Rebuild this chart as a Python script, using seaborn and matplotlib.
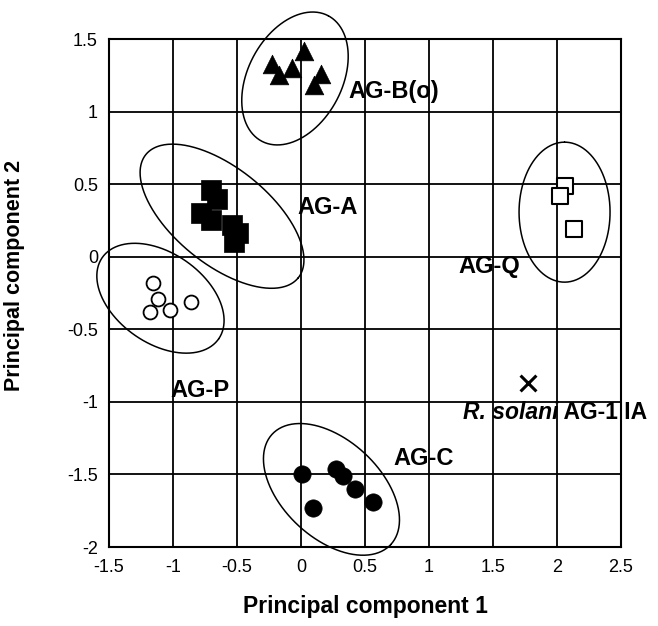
import numpy as np
import pandas as pd
import matplotlib
matplotlib.use("Agg")
import matplotlib.pyplot as plt
import seaborn as sns

# --- data (principal component scores) ---
agb_x = [-0.23, -0.17, -0.07, 0.02, 0.10, 0.16]
agb_y = [1.33, 1.25, 1.30, 1.42, 1.18, 1.26]

aga_x = [-0.70, -0.66, -0.78, -0.70, -0.54, -0.49, -0.52]
aga_y = [0.46, 0.40, 0.30, 0.25, 0.22, 0.16, 0.10]

agp_x = [-1.16, -1.12, -1.18, -1.02, -0.86]
agp_y = [-0.18, -0.29, -0.38, -0.37, -0.31]

agq_x = [2.06, 2.02, 2.13]
agq_y = [0.49, 0.42, 0.19]

agc_x = [0.01, 0.27, 0.33, 0.42, 0.56, 0.09]
agc_y = [-1.50, -1.46, -1.51, -1.60, -1.69, -1.73]

rs_x = [1.77]
rs_y = [-0.87]

groups = ["AG-B(o)", "AG-A", "AG-P", "AG-Q", "AG-C", "R. solani AG-1 IA"]

# group ellipses: centre (data), semi-axes (px), angle (deg on screen)
ell_cx = [-0.047, -0.617, -1.098, 2.059, 0.238]
ell_cy = [1.228, 0.279, -0.286, 0.307, -1.603]
ell_a = [71, 98, 71, 70, 81]
ell_b = [47, 48, 45, 45.5, 49]
ell_ang = [62, -39, -35, 90, -43]

# group labels
lab_text = ["AG-B(o)", "AG-A", "AG-P", "AG-Q", "AG-C"]
lab_x = [0.37, -0.03, -1.02, 1.23, 0.72]
lab_y = [1.14, 0.34, -0.92, -0.07, -1.39]

df = pd.concat([
    pd.DataFrame({"pc1": agb_x, "pc2": agb_y, "group": groups[0]}),
    pd.DataFrame({"pc1": aga_x, "pc2": aga_y, "group": groups[1]}),
    pd.DataFrame({"pc1": agp_x, "pc2": agp_y, "group": groups[2]}),
    pd.DataFrame({"pc1": agq_x, "pc2": agq_y, "group": groups[3]}),
    pd.DataFrame({"pc1": agc_x, "pc2": agc_y, "group": groups[4]}),
    pd.DataFrame({"pc1": rs_x, "pc2": rs_y, "group": groups[5]}),
], ignore_index=True)

styles = {
    "AG-B(o)": dict(marker="^", s=180, color="black", edgecolor="black", linewidth=0.5),
    "AG-A": dict(marker="s", s=200, color="black", edgecolor="black", linewidth=0.5),
    "AG-P": dict(marker="o", s=100, color="white", edgecolor="black", linewidth=1.3),
    "AG-Q": dict(marker="s", s=120, color="white", edgecolor="black", linewidth=1.5),
    "AG-C": dict(marker="o", s=155, color="black", edgecolor="black", linewidth=0.5),
    "R. solani AG-1 IA": dict(marker="x", s=130, color="black", linewidth=2.2),
}

sns.set_style("white")
plt.rcParams["font.family"] = ["Liberation Sans", "DejaVu Sans"]
plt.rcParams.update({"text.color": "black", "axes.labelcolor": "black",
                     "xtick.color": "black", "ytick.color": "black"})

fig = plt.figure(figsize=(6.58, 6.26), dpi=100)
ax = fig.add_axes([109 / 658, 1 - 547 / 626, 512 / 658, 508 / 626])

ax.set_xlim(-1.5, 2.5)
ax.set_ylim(-2, 1.5)
ax.set_xticks(np.arange(-1.5, 2.51, 0.5))
ax.set_yticks(np.arange(-2, 1.51, 0.5))
ax.set_xticks(np.arange(-1.5, 2.51, 0.1), minor=True)
ax.set_yticks(np.arange(-2, 1.51, 0.1), minor=True)
ax.grid(True, which="major", color="black", linewidth=1.3)
ax.set_axisbelow(True)
for sp in ax.spines.values():
    sp.set_color("black")
    sp.set_linewidth(1.5)

ax.tick_params(axis="both", which="major", direction="in", length=0, labelsize=13)
ax.tick_params(axis="both", which="minor", direction="in", length=5, width=1.2, color="black")
ax.tick_params(axis="x", which="major", pad=9)
ax.tick_params(axis="y", which="major", pad=8)
ax.set_xticklabels([f"{v:g}" for v in np.arange(-1.5, 2.51, 0.5)])
ax.set_yticklabels([f"{v:g}" for v in np.arange(-2, 1.51, 0.5)])

for g in groups:
    sub = df[df["group"] == g]
    sns.scatterplot(data=sub, x="pc1", y="pc2", ax=ax, legend=False, zorder=3, **styles[g])

# ellipses drawn in screen-proportional units then mapped back to data
px_x = 512 / 4.0
px_y = 508 / 3.5
t = np.linspace(0, 2 * np.pi, 300)
for cx, cy, a, b, ang in zip(ell_cx, ell_cy, ell_a, ell_b, ell_ang):
    phi = np.deg2rad(ang)
    ex = cx + (a * np.cos(t) * np.cos(phi) - b * np.sin(t) * np.sin(phi)) / px_x
    ey = cy + (a * np.cos(t) * np.sin(phi) + b * np.sin(t) * np.cos(phi)) / px_y
    ax.plot(ex, ey, color="black", linewidth=1.1, clip_on=False, zorder=4)

for txt, x, y in zip(lab_text, lab_x, lab_y):
    ax.text(x, y, txt, fontsize=17, fontweight="bold", ha="left", va="center", zorder=5)

t1 = ax.text(1.265, -1.07, "R. solani", fontsize=16.5, fontweight="bold", style="italic",
             ha="left", va="center", zorder=5, clip_on=False)
ax.annotate(" AG-1 IA", xy=(1, 0), xycoords=t1, ha="left", va="bottom",
            fontsize=16.5, fontweight="bold", annotation_clip=False)

ax.set_xlabel("Principal component 1", fontsize=16.5, fontweight="bold")
ax.set_ylabel("Principal component 2", fontsize=15.5, fontweight="bold")
ax.xaxis.set_label_coords(0.5, -0.095)
ax.yaxis.set_label_coords(-0.165, 0.535)

fig.savefig("out.png", dpi=100)
